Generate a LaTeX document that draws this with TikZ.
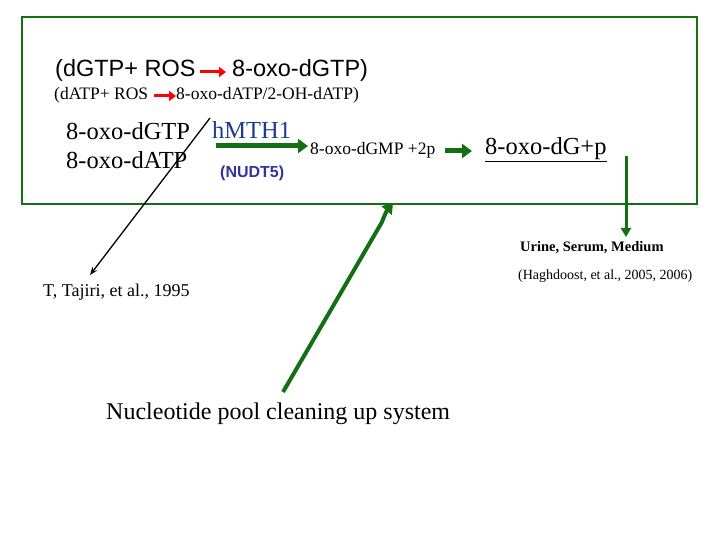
\documentclass[tikz,border=0pt]{standalone}
\usepackage{fontspec}
\setmainfont{Liberation Serif}
\newfontfamily\arial{Liberation Sans}
\usetikzlibrary{arrows.meta}
\definecolor{gr}{RGB}{20,110,20}
\definecolor{navy}{RGB}{30,60,140}
\definecolor{nb}{RGB}{50,50,160}
\tikzset{t/.style={inner sep=0pt,anchor=west},
 garrow/.style={gr,line width=5pt,-{Triangle[length=10pt,width=14pt]}},
 rarrow/.style={red,line width=3pt,-{Triangle[length=7pt,width=10pt]}}}
\begin{document}
\begin{tikzpicture}[x=1pt,y=-1pt]
\useasboundingbox (0,0) rectangle (720,540);
\draw[gr,line width=2pt] (22,17) rectangle (697,204);
\node[t,font=\arial\fontsize{23.5}{25}\selectfont] (a1) at (55,70) {(dGTP+ ROS};
\node[t,font=\arial\fontsize{23.5}{25}\selectfont] (a2) at (232,70) {8-oxo-dGTP)};
\coordinate (r1s) at (200,72);
\coordinate (r1e) at (226,72);
\draw[rarrow] (r1s) -- (r1e);
\node[t,font=\fontsize{17.5}{19}\selectfont] (b1) at (54,95) {(dATP+ ROS};
\node[t,font=\fontsize{17.5}{19}\selectfont] (b2) at (176,95) {8-oxo-dATP/2-OH-dATP)};
\coordinate (r2s) at (154,96);
\draw[rarrow] (r2s) -- (176,96);
\node[t,font=\fontsize{24.5}{26}\selectfont] (c1) at (66,131) {8-oxo-dGTP};
\node[t,font=\fontsize{24.5}{26}\selectfont] (c2) at (66,160) {8-oxo-dATP};
\node[t,font=\fontsize{24.5}{26}\selectfont,text=navy] (h) at (212,130) {hMTH1};
\node[t,font=\arial\bfseries\fontsize{16}{18}\selectfont,text=nb] (n) at (220,173) {(NUDT5)};
\node[t,font=\fontsize{17.5}{19}\selectfont] (g) at (310,150) {8-oxo-dGMP +2p};
\node[t,font=\fontsize{24.5}{26}\selectfont] (d) at (485,150) {\underline{8-oxo-dG+p}};
\coordinate (gs0) at (216,146);
\draw[garrow] (gs0) -- (308,146);
\coordinate (gs) at (445,151);
\draw[garrow] (gs) -- (472,151);
\node[t,font=\bfseries\fontsize{14.5}{16}\selectfont] (u) at (520,248) {Urine, Serum, Medium};
\node[t,font=\fontsize{14}{16}\selectfont] (hg) at (518,276) {(Haghdoost, et al., 2005, 2006)};
\coordinate (ds) at (626,156);
\draw[gr,line width=3pt,-{Triangle[length=9pt,width=10pt]}] (ds) -- (626,237);
\node[t,font=\fontsize{18}{20}\selectfont] (tj) at (43,292) {T, Tajiri, et al., 1995};
\coordinate (bs) at (210,118);
\draw[line width=1.3pt,-{Stealth[length=8pt]}] (bs) -- (90,275);
\node[t,font=\fontsize{24}{26}\selectfont] (np) at (106,414) {Nucleotide pool cleaning up system};
\coordinate (gs2) at (283,392);
\draw[gr,line width=4pt,-{Triangle[length=10pt,width=13pt]}] (gs2) -- (382,222) to[bend left=10] (393,203);
\end{tikzpicture}
\end{document}
